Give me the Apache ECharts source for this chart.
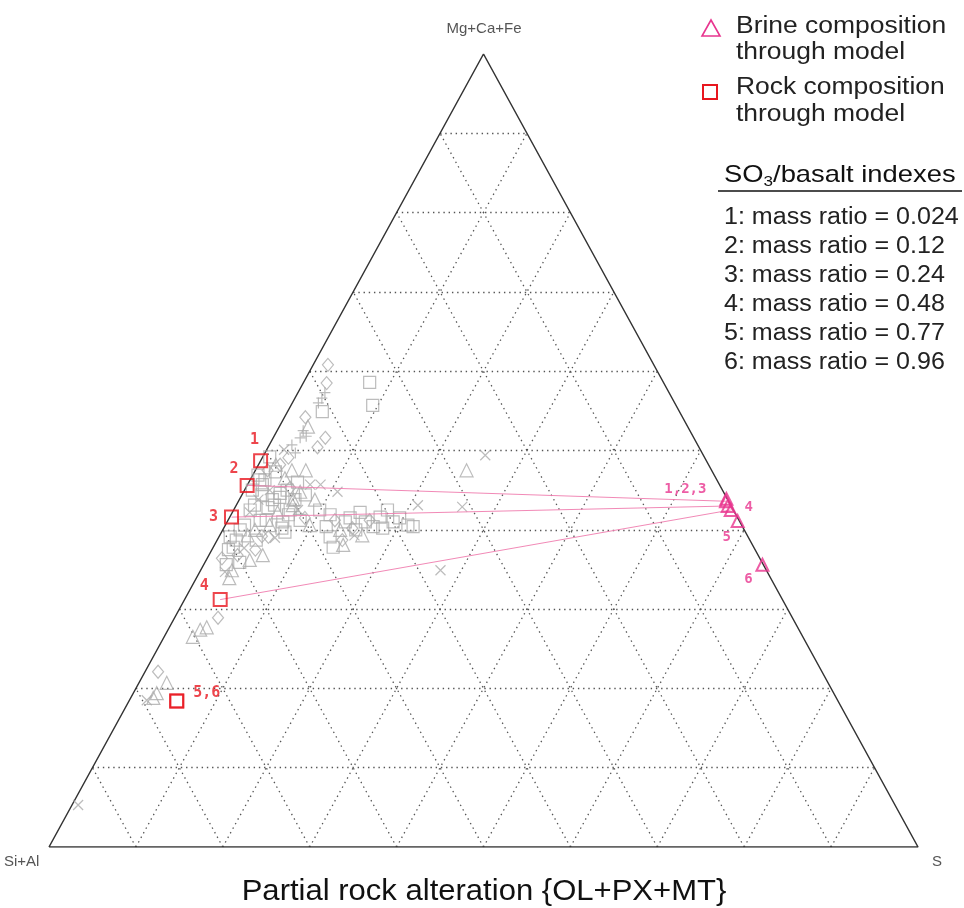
<!DOCTYPE html>
<html>
<head>
<meta charset="utf-8">
<script src="https://cdn.jsdelivr.net/npm/echarts@6/dist/echarts.min.js"></script>
<style>
html, body { margin: 0; padding: 0; background: #fff; }
#main { width: 964px; height: 908px; }
</style>
</head>
<body>
<div id="main"></div>
<script>
// every composition is [S %, Mg+Ca+Fe %], Si+Al is what is left
var rockComp = [[0, 48.7], [0, 45.6], [0.2, 41.6], [4.1, 31.2], [5.5, 18.4], [5.5, 18.4]];
var brineComp = [[56.0, 43.9], [56.1, 43.6], [56.6, 43.0], [57.2, 42.5], [58.7, 41.1], [64.3, 35.6]];
var rockLabels = ['1', '2', '3', '4', '5,6', ''];
var brineLabels = ['1,2,3', '', '', '4', '5', '6'];
var tieLines = [1, 2, 3];   // rock i joined to brine i
var massRatio = ['0.024', '0.12', '0.24', '0.48', '0.77', '0.96'];
var gridSteps = [10, 20, 30, 40, 50, 60, 70, 80, 90];

// grey background samples
var greySquares = [[7.6, 58.6], [9.4, 55.7], [4.0, 54.9], [0.8, 49.2], [0.6, 46.9], [1.7, 46.3], [2.4, 47.3],
  [2.3, 44.4], [4.5, 44.1], [6.4, 43.8], [2.1, 43.1], [3.8, 42.8], [6.6, 41.9], [3.7, 41.2], [6.7, 40.2],
  [0.9, 45.0], [8.3, 41.2], [2.2, 40.6], [4.5, 38.7], [7.3, 39.7], [9.9, 42.5], [5.6, 46.0], [11.4, 41.9],
  [13.6, 41.0], [13.9, 41.5], [14.7, 42.2], [15.9, 41.0], [17.1, 40.4], [17.3, 41.6], [17.7, 42.5], [19.1, 41.0],
  [19.6, 41.5], [21.0, 40.6], [21.7, 40.4], [12.8, 39.1], [13.8, 37.8], [11.7, 40.4], [15.3, 40.0], [18.3, 40.2],
  [1.3, 39.1], [2.3, 37.8], [1.9, 37.5], [2.6, 35.6], [4.0, 35.9], [2.2, 38.7], [1.7, 45.7], [4.4, 43.1],
  [7.3, 44.4], [6.4, 41.0], [3.8, 43.8], [4.9, 45.0], [2.0, 40.0], [1.9, 42.5], [1.1, 46.3], [4.3, 44.6],
  [6.5, 42.5], [4.4, 41.2]];
var greyTriangles = [[3.3, 53.0], [5.8, 47.5], [3.9, 46.5], [6.5, 44.8], [5.2, 42.2], [5.1, 40.6], [4.2, 47.5],
  [3.2, 39.3], [9.7, 40.6], [8.7, 43.8], [2.0, 48.2], [13.5, 40.0], [14.8, 38.1], [16.4, 39.3], [6.2, 36.8],
  [3.6, 34.9], [5.0, 36.2], [3.8, 33.9], [3.3, 26.5], [3.7, 27.4], [4.3, 27.7], [3.2, 20.7], [2.7, 19.4],
  [2.6, 18.8], [24.3, 47.5], [6.5, 43.1], [6.2, 43.8], [3.7, 40.0]];
var greyDiamonds = [[1.7, 60.8], [2.7, 58.5], [2.4, 54.2], [6.0, 51.6], [5.7, 50.4], [3.0, 49.1], [2.5, 48.2],
  [5.1, 45.3], [8.7, 41.5], [1.4, 47.5], [4.9, 39.2], [12.3, 41.2], [14.8, 40.2], [14.4, 38.7], [16.3, 41.2],
  [5.7, 39.1], [1.7, 36.4], [3.3, 36.8], [5.0, 37.5], [5.0, 28.9], [1.5, 22.1]];
var greyCrosses = [[2.0, 50.1], [2.9, 45.0], [7.2, 45.7], [7.4, 42.5], [2.0, 42.2], [6.5, 39.0], [8.4, 45.7],
  [10.8, 44.8], [15.5, 39.3], [3.6, 37.7], [2.9, 34.7], [2.0, 18.5], [25.5, 49.4], [26.1, 42.9], [27.6, 34.9],
  [20.9, 43.1], [0.7, 5.3], [2.2, 43.8]];
var greyPluses = [[3.1, 57.3], [3.1, 56.6], [3.0, 56.0], [3.0, 52.5], [3.7, 51.8], [3.1, 51.6], [3.5, 49.7],
  [2.6, 50.7]];

// ternary -> plane of the triangle
function xy(p) {
  return [p[0] + p[1] / 2, p[1]];
}

var myChart = echarts.init(document.getElementById('main'));

var gridData = [];
gridSteps.forEach(function (k) {
  gridData.push({ coords: [xy([0, k]), xy([100 - k, k])] });
  gridData.push({ coords: [xy([k, 0]), xy([k, 100 - k])] });
  gridData.push({ coords: [xy([100 - k, 0]), xy([0, 100 - k])] });
});

var tieData = tieLines.map(function (i) {
  return { coords: [xy(rockComp[i]), xy(brineComp[i])] };
});

var rockOffsets = [[-6, -21], [-13, -16], [-18, 0], [-16, -13], [30, -8], [0, 0]];
var brineOffsets = [[-41, -10], [0, 0], [0, 0], [18, -3], [-11, 16], [-14, 15]];

function labelled(comp, labels, offsets) {
  return comp.map(function (p, i) {
    return {
      value: xy(p),
      label: { show: labels[i] !== '', formatter: labels[i], offset: offsets[i] }
    };
  });
}

var grey = '#ababab';
function greySeries(data, symbol, size) {
  return {
    type: 'scatter',
    data: data.map(xy),
    symbol: symbol,
    symbolSize: size,
    silent: true,
    z: 3,
    itemStyle: { color: 'rgba(0,0,0,0)', borderColor: grey, borderWidth: 1.2 }
  };
}

function txt(x, y, s, size, sx, color, align) {
  return {
    type: 'text', x: x, y: y, scaleX: sx,
    style: {
      text: s, font: size + 'px "Liberation Sans", Arial, sans-serif', fill: color,
      align: align, textAlign: align, verticalAlign: 'middle', textVerticalAlign: 'middle'
    }
  };
}

var graphic = [
  txt(484, 29, 'Mg+Ca+Fe', 15, 1, '#555', 'center'),
  txt(4, 862, 'Si+Al', 15, 1, '#555', 'left'),
  txt(932, 862, 'S', 15, 1, '#555', 'left'),
  txt(484, 892, 'Partial rock alteration {OL+PX+MT}', 29, 1.07, '#111', 'center'),
  // legend
  { type: 'polygon', shape: { points: [[711, 20], [720, 36], [702, 36]] }, style: { fill: 'none', stroke: '#e8358f', lineWidth: 1.6 } },
  txt(736, 27, 'Brine composition', 23, 1.15, '#222', 'left'),
  txt(736, 53, 'through model', 23, 1.15, '#222', 'left'),
  { type: 'rect', shape: { x: 703, y: 85, width: 14, height: 14 }, style: { fill: 'none', stroke: '#e8171f', lineWidth: 2 } },
  txt(736, 88, 'Rock composition', 23, 1.15, '#222', 'left'),
  txt(736, 115, 'through model', 23, 1.15, '#222', 'left'),
  {
    type: 'text', x: 724, y: 175, scaleX: 1.14,
    style: {
      text: '{a|SO}{s|3}{a|/basalt indexes}', fill: '#111', verticalAlign: 'middle', textVerticalAlign: 'middle',
      rich: {
        a: { font: '24px "Liberation Sans", Arial', fill: '#111', lineHeight: 28 },
        s: { font: '15px "Liberation Sans", Arial', fill: '#111', lineHeight: 12, verticalAlign: 'bottom' }
      }
    }
  },
  { type: 'line', shape: { x1: 718, y1: 191, x2: 962, y2: 191 }, style: { stroke: '#111', lineWidth: 1.5 } }
];
massRatio.forEach(function (m, i) {
  graphic.push(txt(724, 218 + i * 29, (i + 1) + ': mass ratio = ' + m, 23, 1.09, '#222', 'left'));
});

var option = {
  animation: false,
  backgroundColor: '#fff',
  grid: { left: 49, right: 46, top: 54, bottom: 61 },
  xAxis: { type: 'value', min: 0, max: 100, show: false },
  yAxis: { type: 'value', min: 0, max: 100, show: false },
  graphic: graphic,
  series: [
    {
      type: 'lines',
      coordinateSystem: 'cartesian2d',
      silent: true,
      z: 1,
      lineStyle: { color: '#555', width: 1.3, type: [1.4, 3.8], opacity: 1 },
      data: gridData
    },
    {
      type: 'line',
      data: [xy([0, 0]), xy([100, 0]), xy([0, 100]), xy([0, 0])],
      symbol: 'none',
      silent: true,
      z: 2,
      lineStyle: { color: '#333', width: 1.5 }
    },
    greySeries(greySquares, 'rect', 12),
    greySeries(greyTriangles, 'triangle', 13),
    greySeries(greyDiamonds, 'diamond', [11, 13]),
    greySeries(greyCrosses, 'path://M0,0L10,10M10,0L0,10', 10),
    greySeries(greyPluses, 'path://M5,0L5,10M0,5L10,5', 11),
    {
      type: 'lines',
      coordinateSystem: 'cartesian2d',
      silent: true,
      z: 4,
      lineStyle: { color: '#f07cae', width: 1, opacity: 0.9 },
      data: tieData
    },
    {
      type: 'scatter',
      data: labelled(rockComp, rockLabels, rockOffsets),
      symbol: 'rect',
      symbolSize: 13,
      silent: true,
      z: 5,
      itemStyle: { color: 'rgba(0,0,0,0)', borderColor: '#e8171f', borderWidth: 2 },
      label: { position: 'inside', color: '#e8171f', fontFamily: '"DejaVu Sans Mono", monospace', fontSize: 15, fontWeight: 'bold' }
    },
    {
      type: 'scatter',
      data: labelled(brineComp, brineLabels, brineOffsets),
      symbol: 'triangle',
      symbolSize: 12,
      silent: true,
      z: 5,
      itemStyle: { color: 'rgba(0,0,0,0)', borderColor: '#e8358f', borderWidth: 2 },
      label: { position: 'inside', color: '#e8358f', fontFamily: '"DejaVu Sans Mono", monospace', fontSize: 14, fontWeight: 'bold' }
    }
  ]
};
myChart.setOption(option);
</script>
</body>
</html>
